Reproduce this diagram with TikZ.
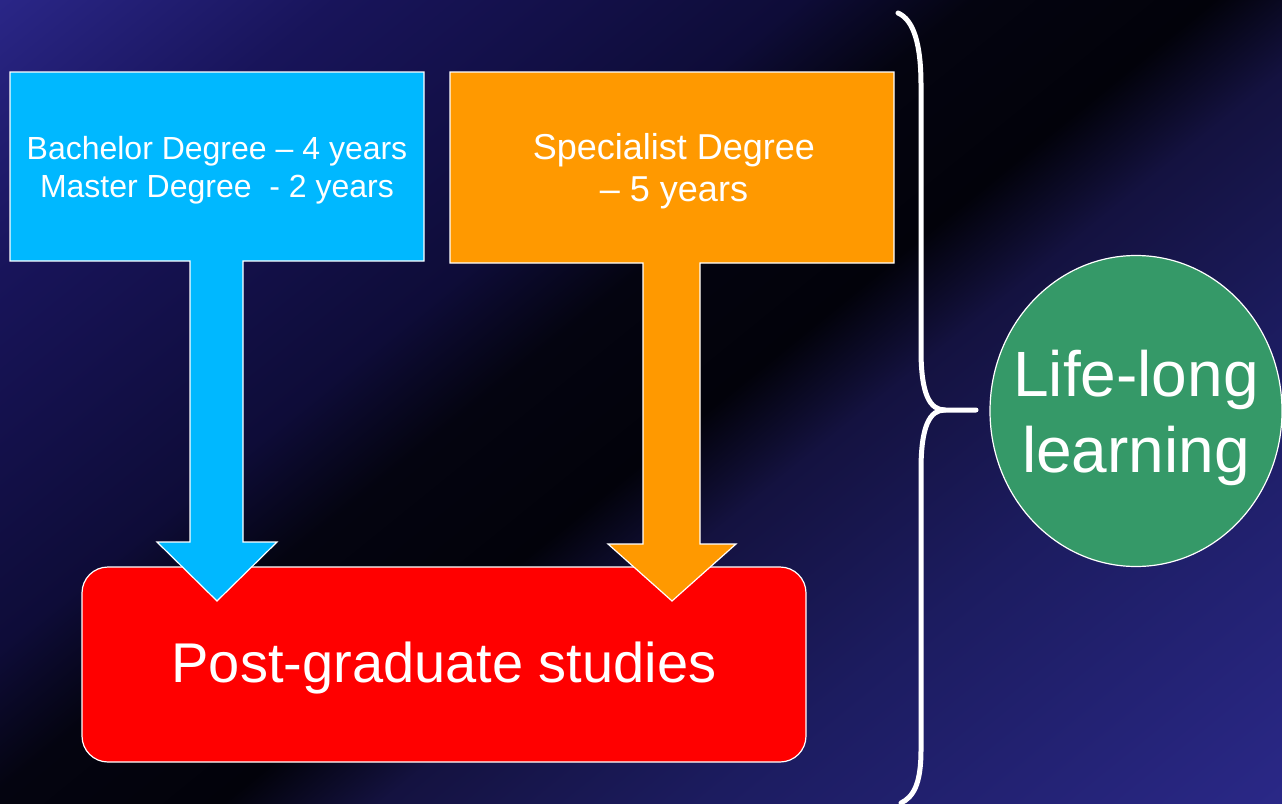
\documentclass[tikz,border=0pt]{standalone}
\usepackage{fontspec}
\setmainfont{Liberation Sans}
\definecolor{bgA}{RGB}{42,38,135}
\definecolor{bgA2}{RGB}{24,20,90}
\definecolor{bgB}{RGB}{14,12,56}
\definecolor{bgB2}{RGB}{4,4,16}
\definecolor{bgC}{RGB}{2,2,10}
\definecolor{bgD}{RGB}{20,18,64}
\definecolor{bgE}{RGB}{28,28,96}
\definecolor{bgF}{RGB}{42,40,135}
\pgfdeclarehorizontalshading{bgshade}{100bp}{color(0bp)=(bgA); color(32.2bp)=(bgA); color(37.5bp)=(bgA2); color(44.75bp)=(bgB); color(47.5bp)=(bgB2); color(51.25bp)=(bgC); color(53.75bp)=(bgD); color(58.9bp)=(bgE); color(67.9bp)=(bgF); color(100bp)=(bgF)}
\definecolor{boxblue}{RGB}{0,184,255}
\definecolor{boxorange}{RGB}{255,153,0}
\definecolor{boxred}{RGB}{255,0,0}
\definecolor{boxgreen}{RGB}{53,153,104}
\tikzset{
  shapeline/.style={draw=white, line width=1.2pt, line join=miter},
  label/.style={text=white, inner sep=0pt, align=center},
  bracestyle/.style={draw=white, line width=5pt, line cap=round}
}
\begin{document}
\begin{tikzpicture}[x=1pt,y=-1pt]
\useasboundingbox (0,0) rectangle (1282,803);
% background
\begin{scope}
\clip (0,0) rectangle (1282,803);
\fill[bgC] (0,0) rectangle (1282,803);
\begin{scope}[transform canvas={shift={(640,400)}, rotate=-51}]
\shade[shading=bgshade] (-1000,-1000) rectangle (1000,1000);
\end{scope}
\end{scope}
% red box
\draw[shapeline, fill=boxred, rounded corners=26pt] (82,567) rectangle (806,762);
\node[label, font=\fontsize{56}{66}\selectfont] (post) at (444,668) {Post-graduate studies};
% blue box with arrow
\draw[shapeline, fill=boxblue] (10,72) -- (424,72) -- (424,261) -- (243,261) -- (243,542) -- (277,542) -- (217,601) -- (157,542) -- (190,542) -- (190,261) -- (10,261) -- cycle;
\node[label, font=\fontsize{32}{38.5}\selectfont] (bach) at (217,170) {Bachelor Degree -- 4 years\\Master Degree\ \ - 2 years};
% orange box with arrow
\draw[shapeline, fill=boxorange] (450,72) -- (894,72) -- (894,263) -- (700,263) -- (700,544) -- (736,544) -- (672,601) -- (608,544) -- (643,544) -- (643,263) -- (450,263) -- cycle;
\node[label, font=\fontsize{36}{42}\selectfont] (spec) at (674,171) {Specialist Degree\\-- 5 years};
% brace
\draw[bracestyle] (898,13) .. controls (914,20) and (921,45) .. (921,85) -- (921,350) .. controls (921,395) and (930,410) .. (945,410) -- (976,410);
\draw[bracestyle] (945,410) .. controls (930,410) and (921,425) .. (921,470) -- (921,750) .. controls (921,785) and (913,797) .. (901,803);
% green circle
\draw[shapeline, fill=boxgreen] (1136,411) ellipse [x radius=146, y radius=155.5];
\node[label, font=\fontsize{64}{76}\selectfont] (life) at (1136,418) {Life-long\\learning};
\end{tikzpicture}
\end{document}
